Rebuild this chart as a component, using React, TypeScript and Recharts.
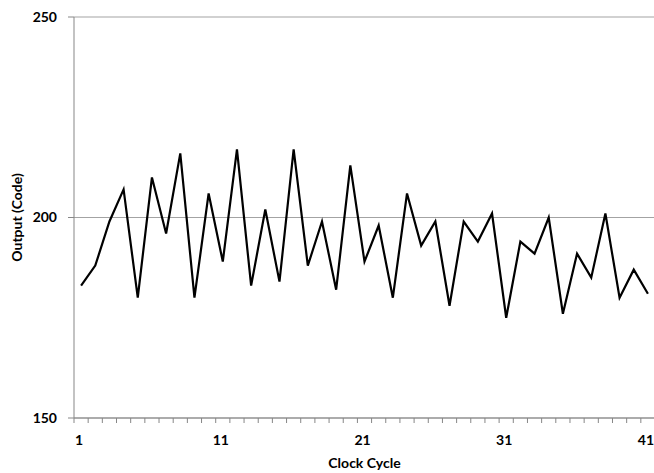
import React from 'react';
import { LineChart, Line, XAxis, YAxis, CartesianGrid, Label } from 'recharts';

const cycles = [
  1, 2, 3, 4, 5, 6, 7, 8, 9, 10, 11, 12, 13, 14, 15, 16, 17, 18, 19, 20, 21,
  22, 23, 24, 25, 26, 27, 28, 29, 30, 31, 32, 33, 34, 35, 36, 37, 38, 39, 40, 41,
];

const outputCodes = [
  183, 188, 199, 207, 180, 210, 196, 216, 180, 206, 189, 217, 183, 202, 184, 217,
  188, 199, 182, 213, 189, 198, 180, 206, 193, 199, 178, 199, 194, 201, 175, 194,
  191, 200, 176, 191, 185, 201, 180, 187, 181,
];

const xTickLabels = [1, 11, 21, 31, 41];
const cycleBoundaries = cycles.map((c) => c - 0.5).concat([cycles[cycles.length - 1] + 0.5]);
const yTicks = [150, 200, 250];

const data = cycles.map((c, i) => ({ cycle: c, code: outputCodes[i] }));

const FONT = 'Lato, "Open Sans", sans-serif';
const AXIS = '#878787';
const GRID = '#a3a3a3';

const tickStyle = { fontFamily: FONT, fontWeight: 700, fontSize: 14, fill: '#000' };

const YTitle = (props: any) => {
  const vb = props.viewBox || { x: 0, y: 17, width: 74, height: 401 };
  const cx = vb.x + 16;
  const cy = vb.y + vb.height / 2;
  return (
    <text
      x={cx}
      y={cy}
      transform={`rotate(-90, ${cx}, ${cy})`}
      textAnchor="middle"
      dominantBaseline="central"
      style={{ fontFamily: FONT, fontWeight: 700, fontSize: 14, fill: '#000' }}
    >
      Output (Code)
    </text>
  );
};

export default function App() {
  return (
    <div style={{ position: 'absolute', left: 0, top: 0, width: 654, height: 473, background: '#fff', overflow: 'hidden' }}>
      <LineChart
        width={654}
        height={473}
        data={data}
        margin={{ top: 17, right: -1, bottom: 0, left: 0 }}
      >
        <CartesianGrid xAxisId="labels" vertical={false} stroke={GRID} strokeWidth={1} />
        <XAxis
          xAxisId="labels"
          type="number"
          dataKey="cycle"
          domain={[0.5, 41.5]}
          ticks={xTickLabels}
          interval={0}
          tickSize={0}
          tickMargin={16}
          height={54}
          axisLine={false}
          tickLine={false}
          tick={{ ...tickStyle, dx: -2 }}
          allowDataOverflow
        >
          <Label
            value="Clock Cycle"
            position="insideBottom"
            offset={5}
            style={{ fontFamily: FONT, fontWeight: 700, fontSize: 14, fill: '#000' }}
          />
        </XAxis>
        <XAxis
          xAxisId="a"
          type="number"
          dataKey="cycle"
          domain={[0.5, 41.5]}
          ticks={cycleBoundaries}
          interval={0}
          tickFormatter={() => ' '}
          tickSize={5}
          height={1}
          axisLine={{ stroke: AXIS, strokeWidth: 1 }}
          tickLine={{ stroke: AXIS, strokeWidth: 1 }}
          allowDataOverflow
        />
        <YAxis
          type="number"
          domain={[150, 250]}
          ticks={yTicks}
          interval={0}
          width={74}
          tickSize={6}
          tickMargin={11}
          axisLine={{ stroke: AXIS, strokeWidth: 1 }}
          tickLine={{ stroke: AXIS, strokeWidth: 1 }}
          tick={tickStyle}
          label={(props: any) => <YTitle {...props} />}
          allowDataOverflow
        />
        <Line
          xAxisId="labels"
          type="linear"
          dataKey="code"
          stroke="#000"
          strokeWidth={2.2}
          dot={false}
          activeDot={false}
          isAnimationActive={false}
        />
      </LineChart>
    </div>
  );
}
